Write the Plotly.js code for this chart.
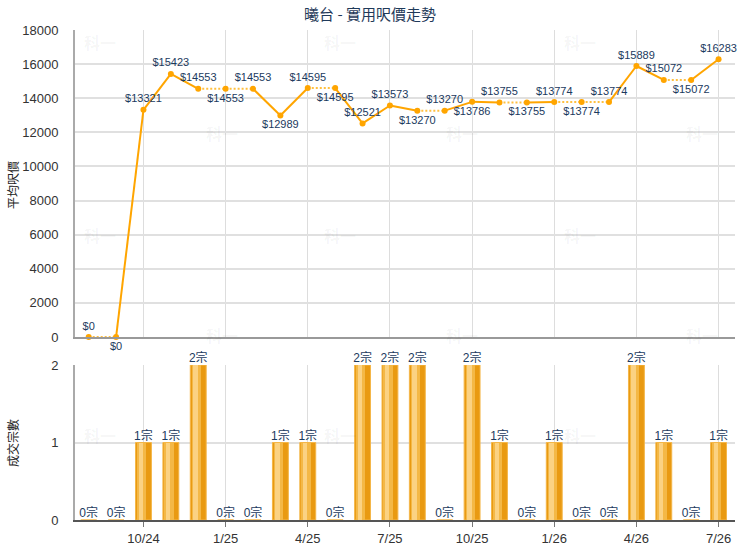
<!DOCTYPE html>
<html>
<head>
<meta charset="utf-8">
<script src="https://cdn.plot.ly/plotly-3.0.1.min.js"></script>
<style>html,body{margin:0;padding:0;background:#fff;}#chart{width:740px;height:550px;}</style>
</head>
<body>
<div id="chart"></div>
<script>
// ---- data ----
const months = ['8/24','9/24','10/24','11/24','12/24','1/25','2/25','3/25','4/25','5/25','6/25','7/25',
                '8/25','9/25','10/25','11/25','12/25','1/26','2/26','3/26','4/26','5/26','6/26','7/26'];
const avgPrice = [0,0,13321,15423,14553,14553,14553,12989,14595,14595,12521,13573,
                  13270,13270,13786,13755,13755,13774,13774,13774,15889,15072,15072,16283];
const dealCount = [0,0,1,1,2,0,0,1,1,0,2,2,2,0,2,1,0,1,0,0,2,1,0,1];
const priceLabelSide = ['top','bottom','top','top','top','bottom','top','bottom','top','bottom','top','top',
                        'bottom','top','bottom','top','bottom','top','bottom','top','top','top','bottom','top'];

const idx = months.map((m,i)=>i);
const tickIdx = idx.filter(i => (i % 3) === 2);
const tickTxt = tickIdx.map(i => months[i]);

// build solid / dotted segments (segment into a no-deal month is dotted)
const sx=[], sy=[], dx=[], dy=[];
for (let i=1;i<idx.length;i++){
  const tx = dealCount[i]===0 ? dx : sx;
  const ty = dealCount[i]===0 ? dy : sy;
  tx.push(idx[i-1], idx[i], null);
  ty.push(avgPrice[i-1], avgPrice[i], null);
}

const orange = '#FFA500';
const navy = '#1B3A5E';
const FONT = 'Liberation Sans, Arial, Noto Sans CJK TC, sans-serif';

const traces = [
  {x:sx, y:sy, xaxis:'x', yaxis:'y', mode:'lines', line:{color:orange,width:2}, connectgaps:false, hoverinfo:'skip', cliponaxis:false},
  {x:dx, y:dy, xaxis:'x', yaxis:'y', mode:'lines', line:{color:'#FFC040',width:2,dash:'2px,2px'}, connectgaps:false, hoverinfo:'skip', cliponaxis:false},
  {x:idx, y:avgPrice, xaxis:'x', yaxis:'y', mode:'markers+text', marker:{color:orange,size:6},
   text: avgPrice.map(v=>'$'+v), textposition: priceLabelSide.map(s=>s+' center'),
   textfont:{family:FONT,size:11,color:navy}, cliponaxis:false},
  // bars (layered to imitate gradient)
  {type:'bar', x:idx, y:dealCount, xaxis:'x2', yaxis:'y2', width:0.58, offset:-0.29,
   marker:{color:'#E99A12', line:{color:'#F4B648',width:1}}, hoverinfo:'skip'},
  {type:'bar', x:idx, y:dealCount, xaxis:'x2', yaxis:'y2', width:0.34, offset:-0.24,
   marker:{color:'#F4B846', line:{width:0}}, hoverinfo:'skip'},
  {type:'bar', x:idx, y:dealCount, xaxis:'x2', yaxis:'y2', width:0.16, offset:-0.18,
   marker:{color:'#FBD283', line:{width:0}}, hoverinfo:'skip'},
  {x:idx, y:dealCount, xaxis:'x2', yaxis:'y2', mode:'text', text: dealCount.map(v=>v+'宗'),
   textposition:'top center', textfont:{family:FONT,size:12,color:navy}, cliponaxis:false, hoverinfo:'skip'}
];

// faint watermarks
const wm = [];
const rows = [42,133,235,335,435];
rows.forEach((py,r)=>{
  const cols = (r%2===0) ? [100,340,580] : [222,462,702];
  cols.forEach(px=>{
    wm.push({xref:'paper',yref:'paper',x:(px-75)/660,y:(520-py)/490,xanchor:'center',yanchor:'middle',
             text:'<b>科一</b>',showarrow:false,
             font:{family:'Noto Sans CJK TC',size:16,color:'rgba(0,0,0,0.05)'}});
  });
});

const layout = {
  width:740, height:550,
  margin:{l:75,r:5,t:30,b:30},
  paper_bgcolor:'#fff', plot_bgcolor:'#fff',
  showlegend:false, barmode:'overlay', bargap:0,
  font:{family:FONT,color:'#333'},
  title:{text:'曦台 - 實用呎價走勢', x:0.5, xanchor:'center', y:1-15/550, yanchor:'middle', yref:'container',
         font:{family:'Noto Sans CJK TC, sans-serif',size:15,color:'#1F3A5A'}},
  xaxis:{domain:[0,1], range:[-0.5,23.6], tickvals:tickIdx, ticktext:tickTxt, showticklabels:false,
         showgrid:true, gridcolor:'#DDDDDD', gridwidth:1, zeroline:false, showline:true, linecolor:'#999',
         linewidth:2, ticks:'', anchor:'y'},
  yaxis:{domain:[183/490,1], range:[0,18000], dtick:2000, tickformat:'d', showgrid:true, gridcolor:'#E0E0E0', gridwidth:2,
         zeroline:false, showline:true, linecolor:'#AAAAAA', linewidth:2, ticks:'', ticklabelstandoff:12,
         tickfont:{family:FONT,size:13,color:'#333'}, anchor:'x'},
  xaxis2:{domain:[0,1], range:[-0.5,23.6], tickvals:tickIdx, ticktext:tickTxt, showgrid:true, gridcolor:'#DDDDDD',
          gridwidth:1, zeroline:false, showline:true, linecolor:'#555', linewidth:2, ticks:'outside', ticklen:5,
          tickcolor:'#777', tickfont:{family:FONT,size:13,color:'#333'}, anchor:'y2'},
  yaxis2:{domain:[0,155/490], range:[0,2], dtick:1, tickformat:'d', showgrid:true, gridcolor:'#E0E0E0', gridwidth:2,
          zeroline:false, showline:true, linecolor:'#AAAAAA', linewidth:2, ticks:'', ticklabelstandoff:12,
          tickfont:{family:FONT,size:13,color:'#333'}, anchor:'x2'},
  annotations: wm.concat([
    {xref:'paper',yref:'paper',x:(12-75)/660,y:(520-185)/490,xanchor:'center',yanchor:'middle',text:'平均呎價',textangle:-90,showarrow:false,
     font:{family:'Noto Sans CJK TC',size:12,color:'#222'}},
    {xref:'paper',yref:'paper',x:(12-75)/660,y:(520-443)/490,xanchor:'center',yanchor:'middle',text:'成交宗數',textangle:-90,showarrow:false,
     font:{family:'Noto Sans CJK TC',size:12,color:'#222'}}
  ])
};

Plotly.newPlot('chart', traces, layout, {displayModeBar:false, staticPlot:true});
</script>
</body>
</html>
